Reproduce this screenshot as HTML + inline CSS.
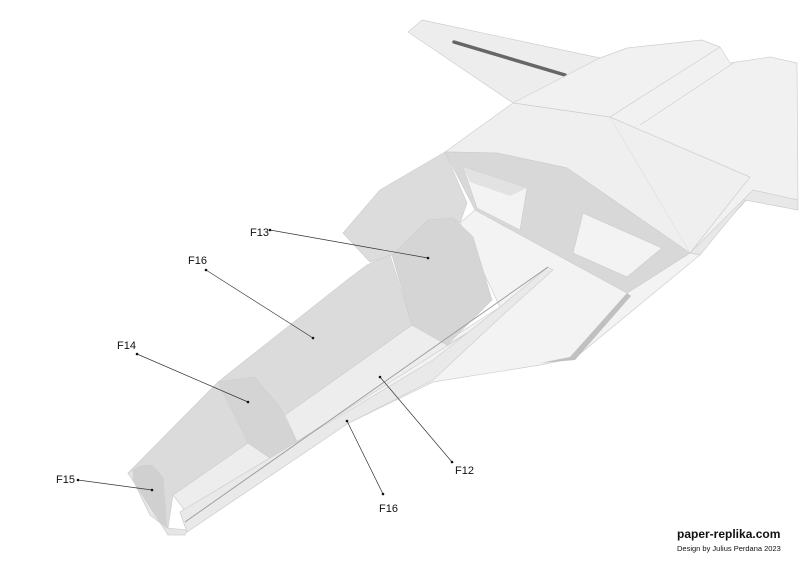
<!DOCTYPE html>
<html><head><meta charset="utf-8"><style>
html,body{margin:0;padding:0;background:#fff;width:800px;height:566px;overflow:hidden}
svg{display:block}
text{font-family:"Liberation Sans",Arial,sans-serif;fill:#111}
</style></head><body>
<svg width="800" height="566" viewBox="0 0 800 566" xmlns="http://www.w3.org/2000/svg">
<g stroke="#cfcfcf" stroke-width="0.7" stroke-linejoin="round">
<!-- rear wing -->
<polygon points="408,32 422,20 600,58 560,100 513,103" fill="#ededed"/>
<line x1="454" y1="42" x2="565" y2="75" stroke="#666" stroke-width="3.5" stroke-linecap="round"/>
<!-- rear fuselage top -->
<polygon points="513,103 600,58 627,48 702,40 720,47 730,63 770,57 797,63 798,200 753,193 700,250 610,117" fill="#f1f1f1"/>
<line x1="610" y1="117" x2="720" y2="47"/>
<line x1="640" y1="125" x2="735" y2="62"/>
<polygon points="690,253 753,190 798,200 798,210 745,200 700,255" fill="#e8e8e8"/>
<!-- cockpit top face -->
<polygon points="445,152 513,103 610,117 750,177 690,253 567,168 497,153" fill="#efefef"/>
<line x1="610" y1="117" x2="690" y2="253" stroke="#e0e0e0"/>
<!-- floor base (light) -->
<polygon points="460,223 475,210 627,293 690,253 700,255 575,358 540,365 433,382 347,424 187,532 180,512 500,307" fill="#f3f3f3"/>
<!-- cockpit left wall -->
<polygon points="343,233 380,190 445,152 467,203 460,223 453,218 428,220 392,255 370,262" fill="#dcdcdc"/>
<polygon points="540,363 570,357 627,293 631,296 575,360" fill="#c0c0c0" stroke="none"/>
<!-- front frame -->
<polygon points="445,152 497,153 567,168 690,253 627,293 475,210" fill="#d8d8d8"/>
<polygon points="463,167 527,188 520,230 477,208" fill="#f3f3f3"/>
<polygon points="463,167 527,188 510,196 470,182" fill="#e2e2e2" stroke="none"/>
<polygon points="583,213 662,248 627,277 573,253" fill="#f3f3f3"/>
<!-- main floor inside -->
<polygon points="173,495 248,443 273,460 302,453 285,415 412,325 447,345 480,325 186,512" fill="#ededed"/>
<!-- left side wall F16 -->
<polygon points="128,473 218,382 347,280 367,265 390,255 412,325 285,415 248,443 173,495 168,528" fill="#dbdbdb"/>
<!-- F14 -->
<polygon points="218,382 255,377 265,390 280,407 302,453 273,460 248,443" fill="#d4d4d4"/>
<!-- F13 -->
<polygon points="392,255 428,220 453,218 473,237 492,300 447,345 412,325" fill="#d5d5d5"/>
<!-- F15 nose bulkhead -->
<polygon points="133,470 140,466 152,465 163,478 167,528 150,515 133,480" fill="#d0d0d0"/>
<polygon points="128,473 133,470 133,480 150,515 167,528 187,530 185,535 168,535" fill="#e6e6e6"/>
<!-- right hull side strip -->
<polygon points="180,512 433,360 500,307 548,267 553,270 505,313 433,380 347,424 187,532" fill="#e9e9e9"/>
<line x1="185" y1="522" x2="548" y2="267" stroke="#9a9a9a" stroke-width="0.9"/>
</g>
<!-- leader lines -->
<g stroke="#333" stroke-width="0.7">
<line x1="270" y1="230" x2="428" y2="258"/>
<line x1="206" y1="270" x2="313" y2="338"/>
<line x1="137" y1="354" x2="248" y2="402"/>
<line x1="78" y1="480" x2="152" y2="490"/>
<line x1="452" y1="462" x2="380" y2="377"/>
<line x1="383" y1="494" x2="347" y2="421"/>
</g>
<g fill="#111">
<circle cx="270" cy="230" r="1.3"/><circle cx="428" cy="258" r="1.3"/>
<circle cx="206" cy="270" r="1.3"/><circle cx="313" cy="338" r="1.3"/>
<circle cx="137" cy="354" r="1.3"/><circle cx="248" cy="402" r="1.3"/>
<circle cx="78" cy="480" r="1.3"/><circle cx="152" cy="490" r="1.3"/>
<circle cx="452" cy="462" r="1.3"/><circle cx="380" cy="377" r="1.3"/>
<circle cx="383" cy="494" r="1.3"/><circle cx="347" cy="421" r="1.3"/>
</g>
<g font-size="11">
<text x="250" y="236">F13</text>
<text x="188" y="264">F16</text>
<text x="117" y="349">F14</text>
<text x="56" y="483">F15</text>
<text x="455" y="474">F12</text>
<text x="379" y="512">F16</text>
</g>
<text x="677" y="538" font-size="12" font-weight="bold">paper-replika.com</text>
<text x="677" y="551" font-size="7.5">Design by Julius Perdana 2023</text>
</svg>
</body></html>
